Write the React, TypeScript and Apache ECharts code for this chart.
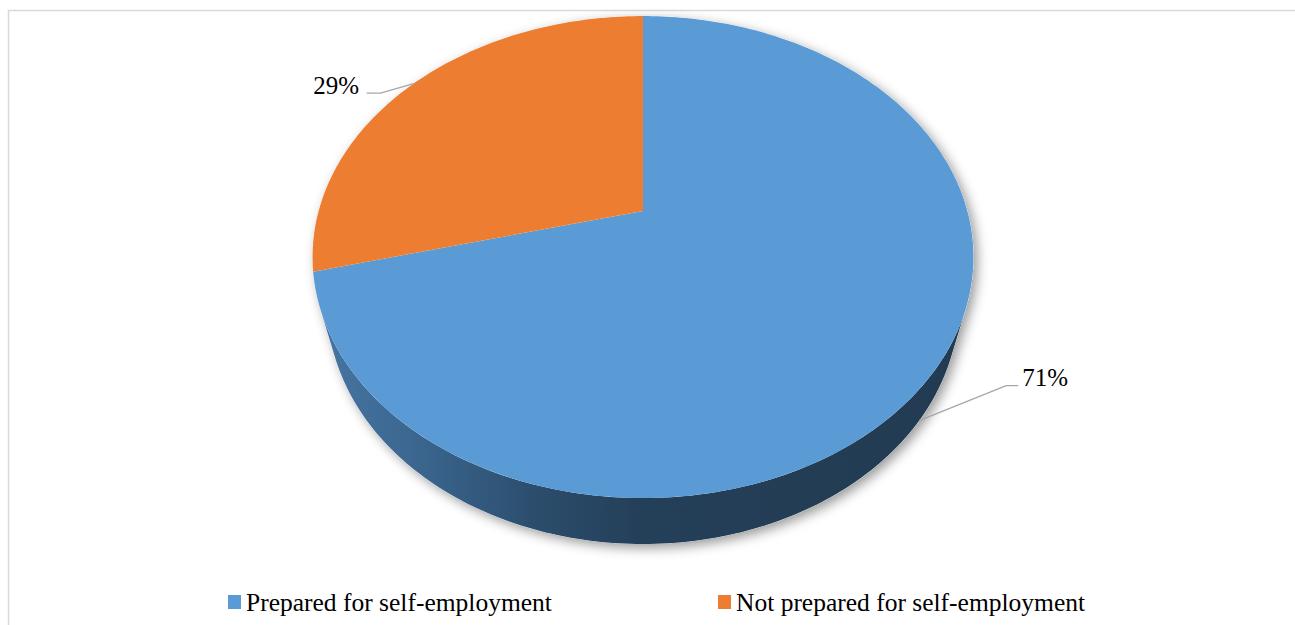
import React, { useEffect, useRef } from "react";
import * as echarts from "echarts";

// ---- data ----
const categories = ["Prepared for self-employment", "Not prepared for self-employment"];
const values = [71, 29];
const sliceColors = ["#5B9BD5", "#ED7D31"];

// ---- 3D pie projection parameters (style / geometry) ----
const CX = 643;
const CY = 211;
const FOCAL = 1185.3;
const DIST = 3.654;
const SIN_A = 0.7158;
const COS_A = 0.6983;
const DEPTH = 0.2308;
const LABEL_OFFSETS = [
  { elbow: [87, -35], end: [12, 0], text: [4, -8], align: "left" },
  { elbow: [-33, 9.5], end: [-14, 0], text: [-7.6, -8], align: "right" },
];
const FONT = "Liberation Serif";

function proj(thetaDeg: number, Y: number): number[] {
  const t = (thetaDeg * Math.PI) / 180;
  const X = Math.cos(t);
  const Z = Math.sin(t);
  const yc = Y * COS_A + Z * SIN_A;
  const zc = DIST + Z * COS_A - Y * SIN_A;
  return [CX + (FOCAL * X) / zc, CY - (FOCAL * yc) / zc];
}

function arc(a: number, b: number, Y: number): number[][] {
  const n = Math.max(2, Math.ceil(Math.abs(b - a)));
  const pts: number[][] = [];
  for (let i = 0; i <= n; i++) pts.push(proj(a + ((b - a) * i) / n, Y));
  return pts;
}

// wall faces camera where sin(theta) < SIL
const SIL = -1 / (DIST * COS_A);
const WALL_LO = 180 + (Math.asin(-SIL) * 180) / Math.PI;
const WALL_HI = 360 - (Math.asin(-SIL) * 180) / Math.PI;

const total = values.reduce((s, v) => s + v, 0);

function makeRenderItem(idx: number) {
  return (params: any, api: any) => {
    const v = api.value(0);
    let before = 0;
    for (let i = 0; i < idx; i++) before += values[i];
    const start = 90 - (360 * before) / total;
    const end = start - (360 * v) / total;
    const children: any[] = [];

    if (idx === 0) {
      // silhouette for the drop shadow
      const sil = arc(WALL_HI, WALL_LO + 360, 0).concat(arc(WALL_LO, WALL_HI, -DEPTH));
      children.push({
        type: "polygon",
        z2: 0,
        shape: { points: sil },
        style: {
          fill: "#ffffff",
          shadowColor: "rgba(0,0,0,0.4)",
          shadowBlur: 12,
          shadowOffsetX: 4,
          shadowOffsetY: 4,
        },
      });
    }

    // visible side wall
    for (let k = -2; k <= 1; k++) {
      const lo = Math.max(end, WALL_LO + 360 * k);
      const hi = Math.min(start, WALL_HI + 360 * k);
      if (hi > lo) {
        const pts = arc(lo, hi, 0).concat(arc(hi, lo, -DEPTH));
        const grad =
          idx === 0
            ? new echarts.graphic.LinearGradient(
                312,
                0,
                973,
                0,
                [
                  { offset: 0, color: "#4877A4" },
                  { offset: 0.15, color: "#3B6790" },
                  { offset: 0.35, color: "#2B4C6B" },
                  { offset: 0.5, color: "#243F58" },
                  { offset: 1, color: "#223B52" },
                ],
                true
              )
            : "#8A4519";
        children.push({
          type: "polygon",
          z2: 5,
          shape: { points: pts },
          style: { fill: grad },
        });
      }
    }

    // top face
    const top = [[CX, CY]];
    children.push({
      type: "polygon",
      z2: 10,
      shape: { points: top.concat(arc(start, end, 0)) },
      style: { fill: sliceColors[idx] },
    });

    // label
    const mid = (start + end) / 2;
    const midSin = Math.sin((mid * Math.PI) / 180);
    const anchor = midSin < SIL ? proj(mid, -DEPTH) : proj(mid, 0);
    const o = LABEL_OFFSETS[idx];
    const elbow = [anchor[0] + o.elbow[0], anchor[1] + o.elbow[1]];
    const lineEnd = [elbow[0] + o.end[0], elbow[1] + o.end[1]];
    children.push({
      type: "polyline",
      z2: 20,
      shape: { points: [anchor, elbow, lineEnd] },
      style: { stroke: "#A6A6A6", lineWidth: 1.3, fill: null },
    });
    children.push({
      type: "text",
      z2: 21,
      x: lineEnd[0] + o.text[0],
      y: lineEnd[1] + o.text[1],
      style: {
        text: Math.round((v / total) * 100) + "%",
        fill: "#000000",
        fontSize: 25,
        fontFamily: FONT,
        align: o.align,
        verticalAlign: "middle",
      },
    });

    return { type: "group", children };
  };
}

export default function App() {
  const ref = useRef<HTMLDivElement>(null);
  useEffect(() => {
    if (!ref.current) return;
    const chart = echarts.init(ref.current, undefined, { renderer: "svg" });
    const legendCommon = {
      orient: "horizontal",
      top: 589,
      padding: 0,
      icon: "rect",
      itemWidth: 13,
      itemHeight: 14,
      selectedMode: false,
      textStyle: { fontSize: 25.5, fontFamily: FONT, color: "#000000" },
    };
    chart.setOption({
      animation: false,
      backgroundColor: "#ffffff",
      legend: [
        { ...legendCommon, left: 228, data: [categories[0]] },
        { ...legendCommon, left: 718, data: [categories[1]] },
      ],
      graphic: [
        {
          type: "rect",
          z: -10,
          shape: { x: 8.5, y: 10.5, width: 1400, height: 700 },
          style: { fill: "none", stroke: "#D9D9D9", lineWidth: 1.5 },
        },
      ],
      series: categories.map((name, i) => ({
        type: "custom",
        name,
        coordinateSystem: "none",
        itemStyle: { color: sliceColors[i] },
        data: [[values[i]]],
        renderItem: makeRenderItem(i),
      })),
    });
    return () => chart.dispose();
  }, []);
  return (
    <div
      ref={ref}
      style={{ position: "fixed", left: 0, top: 0, width: 1295, height: 625 }}
    />
  );
}
